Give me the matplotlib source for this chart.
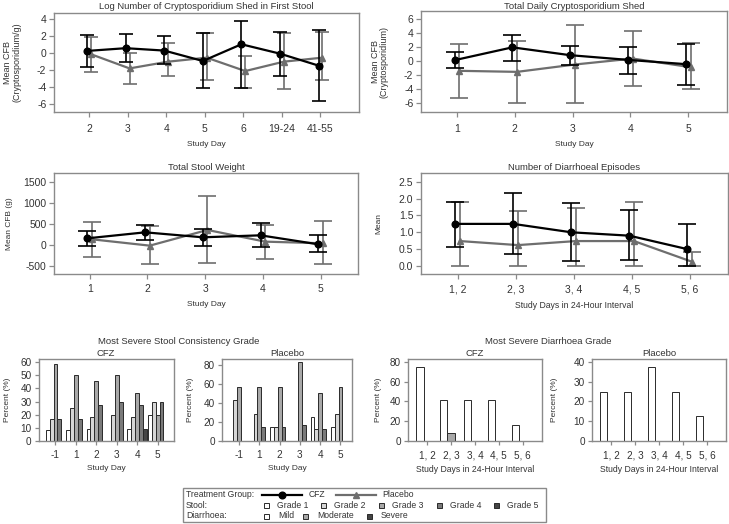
import matplotlib
matplotlib.use('Agg')
import matplotlib.pyplot as plt
from matplotlib.patches import Rectangle
from matplotlib.lines import Line2D
import numpy as np

plt.rcParams['font.family'] = ['Liberation Sans', 'DejaVu Sans']

# ---------------- data ----------------
# Log number of Cryptosporidium shed in first stool
shed_days = ['2', '3', '4', '5', '6', '19-24', '41-55']
shed_cfz = [0.22, 0.54, 0.26, -0.96, 1.0, -0.1, -1.5]
shed_cfz_lo = [-1.63, -1.04, -1.35, -4.1, -4.1, -2.73, -5.65]
shed_cfz_hi = [2.03, 2.23, 1.95, 2.27, 3.7, 2.43, 2.7]
shed_pla = [-0.17, -1.83, -1.04, -0.57, -2.14, -1.04, -0.57]
shed_pla_lo = [-2.2, -3.6, -2.73, -3.17, -4.1, -4.2, -3.2]
shed_pla_hi = [1.8, 0.0, 1.1, 2.3, -0.33, 2.27, 2.43]

# Total daily Cryptosporidium shed
daily_days = ['1', '2', '3', '4', '5']
daily_cfz = [0.17, 2.0, 0.88, 0.21, -0.4]
daily_cfz_lo = [-0.97, 0.07, -0.45, -1.78, -3.35]
daily_cfz_hi = [1.3, 3.8, 2.16, 2.06, 2.44]
daily_pla = [-1.35, -1.5, -0.45, 0.4, -0.83]
daily_pla_lo = [-5.2, -5.9, -5.9, -3.5, -3.96]
daily_pla_hi = [2.54, 2.96, 5.24, 4.3, 2.63]

# Total stool weight
weight_days = ['1', '2', '3', '4', '5']
weight_cfz = [156, 298, 180, 227, 14]
weight_cfz_lo = [-26, 117, -26, -50, -160]
weight_cfz_hi = [330, 480, 377, 512, 227]
weight_pla = [132, -18, 354, 77, 38]
weight_pla_lo = [-279, -445, -421, -342, -445]
weight_pla_hi = [551, 449, 1168, 472, 567]

# Number of diarrhoeal episodes
epi_days = ['1, 2', '2, 3', '3, 4', '4, 5', '5, 6']
epi_cfz = [1.25, 1.25, 1.0, 0.9, 0.5]
epi_cfz_lo = [0.57, 0.35, 0.15, 0.18, 0.0]
epi_cfz_hi = [1.91, 2.17, 1.86, 1.67, 1.24]
epi_pla = [0.74, 0.62, 0.74, 0.74, 0.125]
epi_pla_lo = [0.0, 0.0, 0.0, 0.0, 0.0]
epi_pla_hi = [1.91, 1.63, 1.73, 1.91, 0.41]

# Most severe stool consistency grade (percent)
stool_days = ['-1', '1', '2', '3', '4', '5']
stool_grades = ['Grade 1', 'Grade 2', 'Grade 3', 'Grade 4', 'Grade 5']
stool_cfz_g1 = [8.3, 8.3, 9.1, 0, 9.1, 20]
stool_cfz_g2 = [16.7, 25, 18.2, 20, 18.2, 30]
stool_cfz_g3 = [58.3, 50, 45.5, 50, 36.4, 20]
stool_cfz_g4 = [16.7, 16.7, 27.3, 30, 27.3, 30]
stool_cfz_g5 = [0, 0, 0, 0, 9.1, 0]
stool_pla_g1 = [0, 0, 14.3, 0, 25, 14.3]
stool_pla_g2 = [42.9, 28.6, 14.3, 0, 12.5, 28.6]
stool_pla_g3 = [57.1, 57.1, 57.1, 83.3, 50, 57.1]
stool_pla_g4 = [0, 14.3, 14.3, 16.7, 12.5, 0]
stool_pla_g5 = [0, 0, 0, 0, 0, 0]

# Most severe diarrhoea grade (percent)
diar_days = ['1, 2', '2, 3', '3, 4', '4, 5', '5, 6']
diar_grades = ['Mild', 'Moderate', 'Severe']
diar_cfz_mild = [75.0, 41.7, 41.7, 41.7, 16.7]
diar_cfz_mod = [0, 8.3, 0, 0, 0]
diar_cfz_sev = [0, 0, 0, 0, 0]
diar_pla_mild = [25.0, 25.0, 37.5, 25.0, 12.5]
diar_pla_mod = [0, 0, 0, 0, 0]
diar_pla_sev = [0, 0, 0, 0, 0]

# ---------------- style ----------------
CFZ_C = '#000000'
PLA_C = '#6e6e6e'
GRADE_COLORS = ['#ffffff', '#d6d6d6', '#a8a8a8', '#7a7a7a', '#454545']
DIAR_COLORS = ['#ffffff', '#a8a8a8', '#454545']
SPINE = '#8a8a8a'
TXT = '#333333'
MS = 4.8

W, H = 729, 524
fig = plt.figure(figsize=(W / 100, H / 100), dpi=100)


def add_ax(box):
    x0, y0, x1, y1 = box
    ax = fig.add_axes([x0 / W, 1 - y1 / H, (x1 - x0) / W, (y1 - y0) / H])
    for s in ax.spines.values():
        s.set_color(SPINE)
        s.set_linewidth(1.0)
    return ax


def label_ax(ax, box, xlabel, xlab_y, xfs, ylabel, ylab_x, yfs, title, tpad, tfs=6.8):
    x0, y0, x1, y1 = box
    ax.set_xlabel(xlabel, fontsize=xfs, color=TXT, va='center')
    ax.xaxis.set_label_coords(0.5, (y1 - xlab_y) / (y1 - y0))
    ax.set_ylabel(ylabel, fontsize=yfs, color=TXT, va='center', ha='center', linespacing=1.0)
    ax.yaxis.set_label_coords((ylab_x - x0) / (x1 - x0), 0.5)
    ax.set_title(title, fontsize=tfs, color=TXT, pad=tpad)


def line_panel(box, cats, cfz, cfz_lo, cfz_hi, pla, pla_lo, pla_hi, off, xlim, ylim,
               yticks, yfmt, cap, xpad):
    ax = add_ax(box)
    x = np.arange(len(cats))
    series = [(pla, pla_lo, pla_hi, PLA_C, '^', off, 2),
              (cfz, cfz_lo, cfz_hi, CFZ_C, 'o', -off, 4)]
    for vals, lo, hi, c, m, dx, z in series:
        vals = np.asarray(vals, float)
        lo = np.asarray(lo, float)
        hi = np.asarray(hi, float)
        ax.errorbar(x + dx, vals, yerr=[vals - lo, hi - vals], fmt='none', ecolor=c,
                    elinewidth=1.2, capsize=cap, capthick=1.2, zorder=z)
        ax.plot(x + dx, vals, color=c, lw=1.6, marker=m, ms=MS, zorder=z + 0.5)
    ax.set_xlim(*xlim)
    ax.set_ylim(*ylim)
    ax.set_xticks(x)
    ax.set_xticklabels(cats)
    ax.set_yticks(yticks)
    ax.set_yticklabels([yfmt.format(v) for v in yticks])
    ax.tick_params(axis='x', colors=SPINE, labelcolor=TXT, labelsize=7.5, length=3.5, width=0.9, pad=xpad)
    ax.tick_params(axis='y', colors=SPINE, labelcolor=TXT, labelsize=7.5, length=3.5, width=0.9, pad=2)
    return ax


def bar_panel(box, cats, groups, colors, width, xlim, ylim, yticks):
    ax = add_ax(box)
    x = np.arange(len(cats))
    n = len(groups)
    for i, (vals, c) in enumerate(zip(groups, colors)):
        vals = np.asarray(vals, float)
        keep = vals > 0
        ax.bar(x[keep] + (i - (n - 1) / 2) * width, vals[keep], width=width,
               color=c, edgecolor='#2a2a2a', linewidth=0.7, zorder=2)
    ax.set_xlim(*xlim)
    ax.set_ylim(*ylim)
    ax.set_xticks(x)
    ax.set_xticklabels(cats)
    ax.set_yticks(yticks)
    ax.tick_params(axis='x', colors=SPINE, labelcolor=TXT, labelsize=7.2, length=3, width=0.9, pad=3.5)
    ax.tick_params(axis='y', colors=SPINE, labelcolor=TXT, labelsize=7.2, length=3, width=0.9, pad=2)
    return ax


# ---------------- top row ----------------
b1 = (54, 12.7, 359, 112)
a1 = line_panel(b1, shed_days, shed_cfz, shed_cfz_lo, shed_cfz_hi,
                shed_pla, shed_pla_lo, shed_pla_hi, 0.05, (-0.91, 7.0), (-6.94, 4.7),
                [-6, -4, -2, 0, 2, 4], '{:d}', 5, 5)
label_ax(a1, b1, 'Study Day', 145, 6, 'Mean CFB\n(Cryptosporidium/g)', 12.5, 6.5,
         'Log Number of Cryptosporidium Shed in First Stool', 3.0)

b2 = (421, 11, 727, 112)
a2 = line_panel(b2, daily_days, daily_cfz, daily_cfz_lo, daily_cfz_hi,
                daily_pla, daily_pla_lo, daily_pla_hi, 0.04, (-0.62, 4.67), (-7.23, 7.19),
                [-6, -4, -2, 0, 2, 4, 6], '{:d}', 6.5, 5)
label_ax(a2, b2, 'Study Day', 145, 6, 'Mean CFB\n(Cryptosporidium)', 379.5, 6.5,
         'Total Daily Cryptosporidium Shed', 1.5)

# ---------------- middle row ----------------
b3 = (54, 172.7, 358, 274.3)
a3 = line_panel(b3, weight_days, weight_cfz, weight_cfz_lo, weight_cfz_hi,
                weight_pla, weight_pla_lo, weight_pla_hi, 0.04, (-0.62, 4.65), (-698, 1713),
                [-500, 0, 500, 1000, 1500], '{:d}', 6.5, 3.5)
label_ax(a3, b3, 'Study Day', 305, 6, 'Mean CFB (g)', 10, 6,
         'Total Stool Weight', 1.6)

b4 = (421, 172.7, 728, 274.3)
a4 = line_panel(b4, epi_days, epi_cfz, epi_cfz_lo, epi_cfz_hi,
                epi_pla, epi_pla_lo, epi_pla_hi, 0.04, (-0.63, 4.66), (-0.247, 2.77),
                [0.0, 0.5, 1.0, 1.5, 2.0, 2.5], '{:.1f}', 6.5, 3.5)
label_ax(a4, b4, 'Study Days in 24-Hour Interval', 305, 6.2, 'Mean', 379, 6,
         'Number of Diarrhoeal Episodes', 1.6)

# ---------------- bottom row ----------------
b5 = (38.5, 359, 173.5, 441)
a5 = bar_panel(b5, stool_days,
               [stool_cfz_g1, stool_cfz_g2, stool_cfz_g3, stool_cfz_g4, stool_cfz_g5],
               GRADE_COLORS, 0.19, (-0.83, 5.78), (0, 62.3), [0, 10, 20, 30, 40, 50, 60])
label_ax(a5, b5, 'Study Day', 469, 6, 'Percent (%)', 8, 6, 'CFZ', 2.5)

b6 = (222, 359, 352, 441)
a6 = bar_panel(b6, stool_days,
               [stool_pla_g1, stool_pla_g2, stool_pla_g3, stool_pla_g4, stool_pla_g5],
               GRADE_COLORS, 0.19, (-0.84, 5.57), (0, 86), [0, 20, 40, 60, 80])
label_ax(a6, b6, 'Study Day', 469, 6, 'Percent (%)', 191, 6, 'Placebo', 2.5)

b7 = (407.7, 359, 542.3, 441)
a7 = bar_panel(b7, diar_days, [diar_cfz_mild, diar_cfz_mod, diar_cfz_sev],
               DIAR_COLORS, 0.31, (-0.82, 4.82), (0, 83), [0, 20, 40, 60, 80])
label_ax(a7, b7, 'Study Days in 24-Hour Interval', 469, 6.2, 'Percent (%)', 378, 6, 'CFZ', 2.5)

b8 = (591.7, 359, 726, 441)
a8 = bar_panel(b8, diar_days, [diar_pla_mild, diar_pla_mod, diar_pla_sev],
               DIAR_COLORS, 0.31, (-0.8, 4.79), (0, 41.5), [0, 10, 20, 30, 40])
label_ax(a8, b8, 'Study Days in 24-Hour Interval', 469, 6.2, 'Percent (%)', 554, 6, 'Placebo', 2.5)

fig.text(178.5 / W, 1 - 341 / H, 'Most Severe Stool Consistency Grade', fontsize=6.8,
         color=TXT, ha='center', va='center')
fig.text(548 / W, 1 - 341 / H, 'Most Severe Diarrhoea Grade', fontsize=6.8,
         color=TXT, ha='center', va='center')

# ---------------- legend ----------------
lg = fig.add_axes([0, 0, 1, 1], facecolor='none')
lg.set_xlim(0, W)
lg.set_ylim(H, 0)
lg.axis('off')
lg.add_patch(Rectangle((183, 488), 363, 34, fill=False, edgecolor=SPINE, lw=1.0))
LFS = 6.2
rows_y = [494.7, 505.7, 516.0]
for ty, t in zip(rows_y, ['Treatment Group:', 'Stool:', 'Diarrhoea:']):
    lg.text(186, ty, t, fontsize=LFS, color=TXT, ha='left', va='center')
lg.add_line(Line2D([261.7, 301.7], [rows_y[0]] * 2, color=CFZ_C, lw=1.6))
lg.add_line(Line2D([281.7], [rows_y[0]], color=CFZ_C, marker='o', ms=MS))
lg.text(308.3, rows_y[0], 'CFZ', fontsize=LFS, color=TXT, ha='left', va='center')
lg.add_line(Line2D([336, 376], [rows_y[0]] * 2, color=PLA_C, lw=1.6))
lg.add_line(Line2D([356], [rows_y[0]], color=PLA_C, marker='^', ms=MS))
lg.text(382.7, rows_y[0], 'Placebo', fontsize=LFS, color=TXT, ha='left', va='center')

SQ = 5
stool_sq_x = [266.7, 324.0, 382.0, 439.3, 496.7]
for sx, g, c in zip(stool_sq_x, stool_grades, GRADE_COLORS):
    lg.add_patch(Rectangle((sx - SQ / 2, rows_y[1] - SQ / 2), SQ, SQ, facecolor=c,
                           edgecolor='#2a2a2a', lw=0.7))
    lg.text(sx + 10.5, rows_y[1], g, fontsize=LFS, color=TXT, ha='left', va='center')
diar_sq_x = [266.7, 306.0, 369.3]
for sx, g, c in zip(diar_sq_x, diar_grades, DIAR_COLORS):
    lg.add_patch(Rectangle((sx - SQ / 2, rows_y[2] - SQ / 2), SQ, SQ, facecolor=c,
                           edgecolor='#2a2a2a', lw=0.7))
    lg.text(sx + 11.5, rows_y[2], g, fontsize=LFS, color=TXT, ha='left', va='center')

fig.savefig('out.png', dpi=100)
